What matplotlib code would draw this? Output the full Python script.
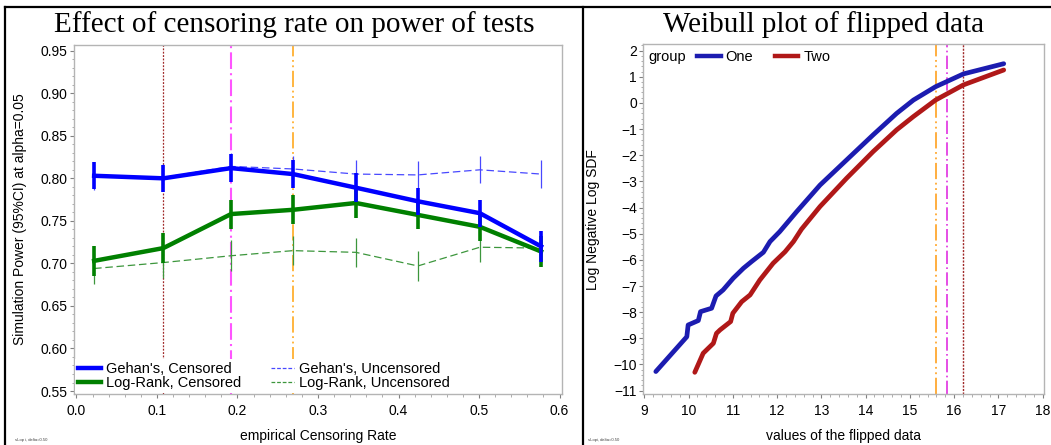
import numpy as np
import matplotlib
matplotlib.use("Agg")
import matplotlib.pyplot as plt
from matplotlib.lines import Line2D
from matplotlib.ticker import MultipleLocator, AutoMinorLocator

plt.rcParams['font.family'] = ['Liberation Sans', 'DejaVu Sans']

# left panel: power vs empirical censoring rate
cens_rate = [0.022, 0.108, 0.192, 0.269, 0.347, 0.424, 0.501, 0.577]
gehan_cens = [0.803, 0.800, 0.812, 0.805, 0.789, 0.773, 0.759, 0.720]
gehan_cens_ci = [0.016, 0.016, 0.016, 0.016, 0.017, 0.016, 0.016, 0.018]
logrank_cens = [0.703, 0.718, 0.758, 0.763, 0.771, 0.757, 0.743, 0.714]
logrank_cens_ci = [0.018, 0.018, 0.017, 0.017, 0.018, 0.017, 0.017, 0.018]
gehan_unc = [0.802, 0.801, 0.814, 0.811, 0.805, 0.804, 0.810, 0.805]
gehan_unc_ci = [0.016, 0.016, 0.016, 0.015, 0.016, 0.016, 0.016, 0.016]
logrank_unc = [0.694, 0.701, 0.709, 0.715, 0.713, 0.697, 0.719, 0.718]
logrank_unc_ci = [0.018, 0.018, 0.018, 0.017, 0.017, 0.018, 0.017, 0.017]
left_refs = [0.108, 0.192, 0.269]

# right panel: Weibull plot of flipped data
one_x = [9.26, 9.96, 9.99, 10.22, 10.27, 10.52, 10.62, 10.78, 11.01, 11.24, 11.42,
         11.69, 11.84, 12.06, 12.44, 12.97, 13.57, 14.17, 14.70, 15.08, 15.58, 16.21, 17.12]
one_y = [-10.27, -8.94, -8.49, -8.32, -7.98, -7.85, -7.38, -7.15, -6.70, -6.32, -6.07,
         -5.71, -5.30, -4.92, -4.16, -3.14, -2.18, -1.22, -0.40, 0.11, 0.62, 1.11, 1.50]
two_x = [10.14, 10.33, 10.56, 10.63, 10.71, 10.95, 11.00, 11.20, 11.39, 11.61, 11.91,
         12.18, 12.37, 12.55, 12.97, 13.57, 14.17, 14.70, 15.08, 15.58, 16.21, 17.12]
two_y = [-10.30, -9.57, -9.19, -8.81, -8.68, -8.36, -8.04, -7.60, -7.34, -6.77, -6.13,
         -5.69, -5.30, -4.83, -3.96, -2.88, -1.86, -1.03, -0.52, 0.11, 0.69, 1.26]
right_refs = [15.58, 15.845, 16.206]

fig = plt.figure(figsize=(10.51, 4.45), dpi=100)
W, H = 1051.0, 445.0


def style_axes(ax):
    for s in ax.spines.values():
        s.set_color('#b4b4b4')
        s.set_linewidth(1.0)
    ax.tick_params(which='major', length=3, color='#808080', labelsize=10)
    ax.tick_params(axis='x', pad=4)
    ax.tick_params(axis='y', pad=1.5)
    ax.tick_params(which='minor', length=1.8, color='#a0a0a0')
    ax.xaxis.set_minor_locator(AutoMinorLocator(5))
    ax.yaxis.set_minor_locator(AutoMinorLocator(5))


# ---- left
ax1 = fig.add_axes([74 / W, 1 - 394 / H, 487.6 / W, 349 / H])
style_axes(ax1)
ax1.set_xlim(-0.003, 0.6025)
ax1.set_ylim(0.5465, 0.9567)
ax1.xaxis.set_major_locator(MultipleLocator(0.1))
ax1.yaxis.set_major_locator(MultipleLocator(0.05))
ax1.xaxis.set_major_formatter(plt.FuncFormatter(lambda v, p: '%.1f' % v))
ax1.yaxis.set_major_formatter(plt.FuncFormatter(lambda v, p: '%.2f' % v))

ax1.axvline(left_refs[0], color='#a02828', lw=0.9, ls=(0, (1.5, 1.2)), zorder=1)
ax1.axvline(left_refs[1], color='#ff55ff', lw=1.5, ls=(0, (8, 2, 1, 2)), zorder=1)
ax1.axvline(left_refs[2], color='#ffb030', lw=1.3, ls=(0, (9, 2, 1, 2, 1, 2)), zorder=1)

ax1.errorbar(cens_rate, gehan_unc, yerr=gehan_unc_ci, color='#4848ff', lw=0.9,
             ls=(0, (6, 3)), elinewidth=0.9, capsize=0, zorder=2)
ax1.errorbar(cens_rate, logrank_unc, yerr=logrank_unc_ci, color='#3c963c', lw=0.9,
             ls=(0, (6, 3)), elinewidth=0.9, capsize=0, zorder=2)
ax1.errorbar(cens_rate, logrank_cens, yerr=logrank_cens_ci, color='#008000', lw=3.2,
             elinewidth=2.6, capsize=0, zorder=3)
ax1.errorbar(cens_rate, gehan_cens, yerr=gehan_cens_ci, color='#0000ff', lw=3.2,
             elinewidth=2.6, capsize=0, zorder=4)

handles = [Line2D([], [], color='#0000ff', lw=3.2),
           Line2D([], [], color='#008000', lw=3.2),
           Line2D([], [], color='#4848ff', lw=0.9, ls=(0, (3, 1.5))),
           Line2D([], [], color='#3c963c', lw=0.9, ls=(0, (3, 1.5)))]
labels = ["Gehan's, Censored", "Log-Rank, Censored",
          "Gehan's, Uncensored", "Log-Rank, Uncensored"]
leg = ax1.legend(handles, labels, ncol=2, loc='lower left', bbox_to_anchor=(0.0, 0.0),
                 frameon=True, fancybox=False, fontsize=10.5, handlelength=1.6,
                 handletextpad=0.35, columnspacing=2.0, labelspacing=0.05,
                 borderpad=0.15, borderaxespad=0.1)
leg.get_frame().set_edgecolor('none')
leg.get_frame().set_facecolor('white')
leg.get_frame().set_alpha(1)
leg.set_zorder(10)

ax1.set_xlabel('empirical Censoring Rate', fontsize=10, labelpad=8)
ax1.set_ylabel('Simulation Power (95%CI) at alpha=0.05', fontsize=10, labelpad=10)

# ---- right
ax2 = fig.add_axes([643.3 / W, 1 - 394.3 / H, 400.7 / W, 350 / H])
style_axes(ax2)
ax2.set_xlim(8.977, 18.03)
ax2.set_ylim(-11.14, 2.242)
ax2.xaxis.set_major_locator(MultipleLocator(1))
ax2.yaxis.set_major_locator(MultipleLocator(1))

ax2.axvline(right_refs[0], color='#ffa830', lw=1.3, ls=(0, (9, 2, 1, 2, 1, 2)), zorder=1)
ax2.axvline(right_refs[1], color='#e030e0', lw=1.2, ls=(0, (8, 2, 1, 2)), zorder=1)
ax2.axvline(right_refs[2], color='#a02828', lw=1.0, ls=(0, (1.5, 1.0)), zorder=1)

l1, = ax2.plot(one_x, one_y, color='#1c1cb0', lw=3.4, solid_capstyle='round', zorder=3)
l2, = ax2.plot(two_x, two_y, color='#b01818', lw=3.4, solid_capstyle='round', zorder=3)
ax2.text(648 / W, 1 - 57 / H, 'group', transform=fig.transFigure, fontsize=10.5,
         va='center')
ax2.legend([Line2D([], [], color='#1c1cb0', lw=3.2), Line2D([], [], color='#b01818', lw=3.2)],
           ['One', 'Two'], ncol=2, loc='upper left', bbox_to_anchor=(0.12, 1.0),
           frameon=False, fontsize=10.5, handlelength=1.6, handletextpad=0.35,
           columnspacing=1.5, borderpad=0.3, borderaxespad=0.1)
ax2.set_xlabel('values of the flipped data', fontsize=10, labelpad=8)
ax2.set_ylabel('Log Negative Log SDF', fontsize=10, labelpad=10)

# titles
fig.text(294 / W, 1 - 25 / H, 'Effect of censoring rate on power of tests',
         family='Liberation Serif', fontsize=21, ha='center', va='center')
fig.text(824 / W, 1 - 25 / H, 'Weibull plot of flipped data',
         family='Liberation Serif', fontsize=21, ha='center', va='center')

# footnotes
fig.text(15 / W, 1 - 440 / H, 'sLop i, delta=0.50', fontsize=3, color='#404040', va='center')
fig.text(588 / W, 1 - 440 / H, 'sLopi, delta=0.50', fontsize=3, color='#404040', va='center')

# panel borders
fig.add_artist(Line2D([5 / W, 1], [1 - 7 / H, 1 - 7 / H], color='black', lw=1.6))
fig.add_artist(Line2D([5 / W, 5 / W], [0, 1 - 7 / H], color='black', lw=1.6))
fig.add_artist(Line2D([582.5 / W, 582.5 / W], [0, 1 - 7 / H], color='black', lw=1.6))

fig.savefig('out.png', dpi=100)
